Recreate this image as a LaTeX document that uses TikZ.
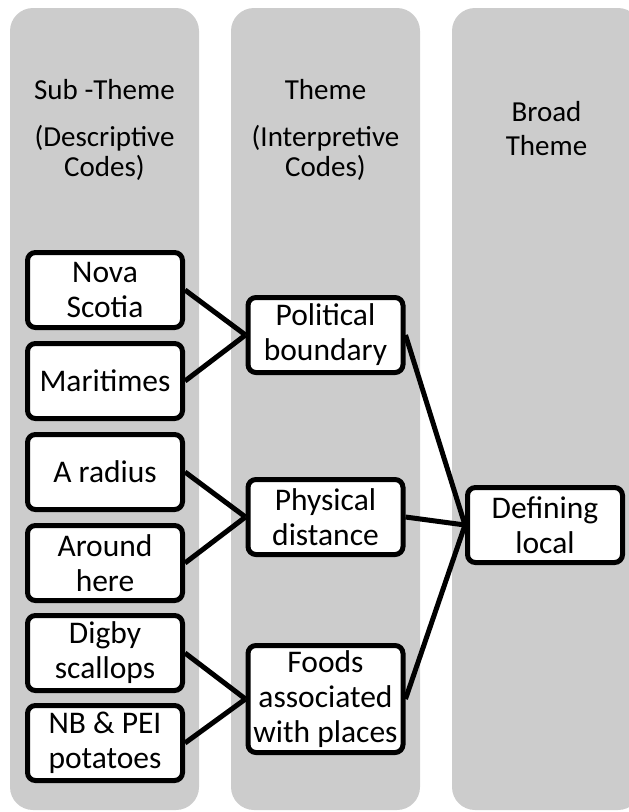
\documentclass[tikz,border=0pt]{standalone}
\usepackage{fontspec}
\setmainfont{Carlito}
\usepackage{xcolor}
\definecolor{colgray}{RGB}{204,204,204}

\begin{document}
\begin{tikzpicture}[x=1pt, y=-1pt,
    code/.style={draw=black, fill=white, line width=5pt, rounded corners=8pt,
      minimum width=155pt, minimum height=75pt, inner sep=0pt, align=center,
      font=\fontsize{31.5}{35}\selectfont},
    head/.style={align=center, anchor=base, font=\fontsize{29}{30}\selectfont},
    link/.style={line width=5pt}]
  \useasboundingbox (0,0) rectangle (629,812);
  \clip (0,0) rectangle (629,812);

  % grey columns
  \foreach \x in {10, 231, 452}
    \fill[colgray, rounded corners=23pt] (\x,8) rectangle ++(189,802);

  \node[head] (subhead) at (104.5,176) {Sub -Theme\\[17pt](Descriptive\\Codes)};
  \node[head] (themehead) at (325.5,176) {Theme\\[17pt](Interpretive\\Codes)};
  \node[head] (broadhead) at (546.5,155) {Broad\\[4pt]Theme};

  % sub-themes
  \node[code] (nova) at (105,290) {Nova\\Scotia};
  \node[code] (maritimes) at (105,381) {Maritimes};
  \node[code] (radius) at (105,472) {A radius};
  \node[code] (around) at (105,563) {Around\\here};
  \node[code] (digby) at (105,653) {Digby\\scallops};
  \node[code] (potatoes) at (105,743) {NB \& PEI\\potatoes};

  % themes
  \node[code] (political) at (325.5,335) {Political\\boundary};
  \node[code] (physical) at (325.5,517) {Physical\\distance};
  \node[code, minimum height=107pt] (foods) at (325.5,699) {Foods\\associated\\with places};

  % broad theme
  \node[code] (local) at (545,525) {Defining\\local};

  \draw[link] (nova.east) -- (political.west);
  \draw[link] (maritimes.east) -- (political.west);
  \draw[link] (radius.east) -- (physical.west);
  \draw[link] (around.east) -- (physical.west);
  \draw[link] (digby.east) -- (foods.west);
  \draw[link] (potatoes.east) -- (foods.west);
  \draw[link] (political.east) -- (local.west);
  \draw[link] (physical.east) -- (local.west);
  \draw[link] (foods.east) -- (local.west);
\end{tikzpicture}
\end{document}
